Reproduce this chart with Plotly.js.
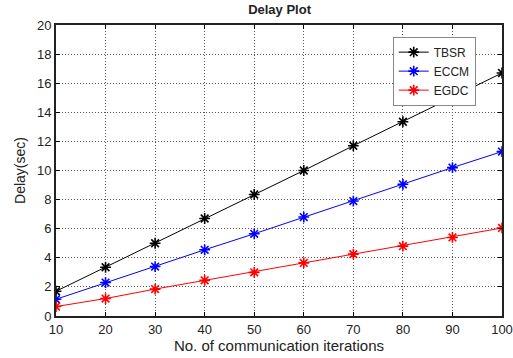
<!DOCTYPE html>
<html><head><meta charset="utf-8">
<script src="https://cdn.plot.ly/plotly-3.0.1.min.js"></script>
<style>html,body{margin:0;padding:0;background:#fff;}#chart{width:513px;height:358px;}</style>
</head><body><div id="chart"></div>
<script>
const iterations = [10, 20, 30, 40, 50, 60, 70, 80, 90, 100];
const tbsr = [1.7, 3.35, 5.0, 6.7, 8.35, 10.0, 11.7, 13.35, 15.0, 16.7];
const eccm = [1.15, 2.3, 3.4, 4.55, 5.65, 6.8, 7.9, 9.05, 10.2, 11.3];
const egdc = [0.65, 1.2, 1.85, 2.45, 3.0, 3.65, 4.25, 4.8, 5.4, 6.05];
const seriesNames = ['TBSR', 'ECCM', 'EGDC'];
const xTicks = [10, 20, 30, 40, 50, 60, 70, 80, 90, 100];
const yTicks = [0, 2, 4, 6, 8, 10, 12, 14, 16, 18, 20];

function tr(y, name, color, lw) {
  return {x: iterations, y: y, name: name, mode: 'lines+markers', type: 'scatter',
    line: {color: color, width: lw},
    marker: {symbol: 'asterisk-open', size: 9, color: color, line: {color: color, width: 1.6}}};
}
const data = [tr(tbsr, seriesNames[0], '#000000', 1), tr(eccm, seriesNames[1], '#0000ff', 1), tr(egdc, seriesNames[2], '#ff0000', 1)];
const font = {family: 'Liberation Sans, Arial, sans-serif', color: '#222'};
const layout = {
  width: 513, height: 358,
  margin: {l: 56, r: 11, t: 25, b: 42},
  paper_bgcolor: '#fff', plot_bgcolor: '#fff',
  font: Object.assign({size: 13}, font),
  title: {text: '<b>Delay Plot</b>', x: 0.545, xanchor: 'center', y: 0.985, yanchor: 'top', font: Object.assign({size: 13}, font)},
  showlegend: true,
  legend: {x: 0.755, y: 0.96, xanchor: 'left', yanchor: 'top', bgcolor: '#fff', bordercolor: '#888', borderwidth: 1,
    font: Object.assign({size: 12}, font), tracegroupgap: 0, itemwidth: 30},
  xaxis: {range: [10, 100], tickvals: xTicks, ticks: 'inside', ticklen: 4, tickcolor: '#000',
    showline: true, linecolor: '#222', linewidth: 2, mirror: 'ticks',
    showgrid: true, gridcolor: '#555', griddash: '1px,2px', gridwidth: 1, zeroline: false,
    tickfont: Object.assign({size: 13}, font),
    title: {text: 'No. of communication iterations', font: Object.assign({size: 15}, font), standoff: 4}},
  yaxis: {range: [0, 20], tickvals: yTicks, ticks: 'inside', ticklen: 4, tickcolor: '#000',
    showline: true, linecolor: '#222', linewidth: 2, mirror: 'ticks',
    showgrid: true, gridcolor: '#555', griddash: '1px,2px', gridwidth: 1, zeroline: false,
    tickfont: Object.assign({size: 13}, font),
    title: {text: 'Delay(sec)', font: Object.assign({size: 14}, font), standoff: 8}}
};
Plotly.newPlot('chart', data, layout, {displayModeBar: false, staticPlot: true});
</script></body></html>
